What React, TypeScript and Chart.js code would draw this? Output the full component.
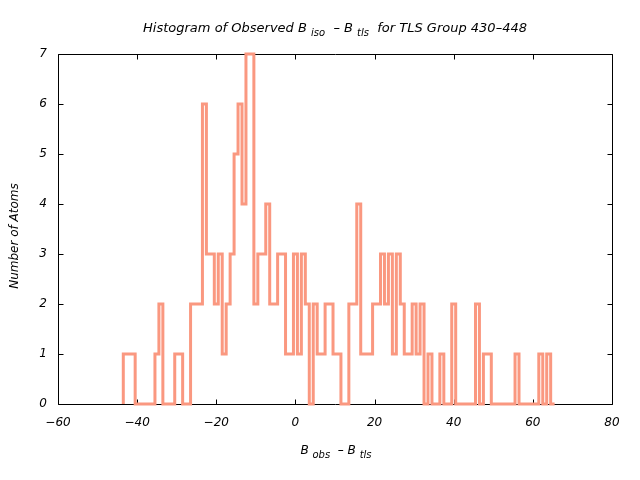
import React, { useEffect, useRef } from "react";
import { Chart, registerables } from "chart.js";

Chart.register(...registerables);

// Histogram bins: centre of first bin and bin width (data units)
const BIN_START = -43;
const BIN_WIDTH = 1;
// Counts for bins centred at -43, -42, ..., 65
const COUNTS = [
  1, 1, 1, // -43..-41
  0, 0, 0, 0, 0, // -40..-36
  1, 2, // -35, -34
  0, 0, 0, // -33..-31
  1, 1, // -30, -29
  0, 0, // -28, -27
  2, 2, 2, // -26..-24
  6, // -23
  3, 3, // -22, -21
  2, 3, 1, 2, 3, 5, 6, 4, // -20..-13
  7, 7, // -12, -11
  2, 3, 3, 4, 2, 2, // -10..-5
  3, 3, 1, 1, // -4..-1
  3, 1, 3, 2, 0, 2, // 0..5
  1, 1, 2, 2, 1, 1, // 6..11
  0, 0, 2, 2, 4, // 12..16
  1, 1, 1, 2, 2, // 17..21
  3, 2, 3, 1, 3, 2, // 22..27
  1, 1, 2, 1, 2, 0, // 28..33
  1, 0, 0, 1, 0, 0, // 34..39
  2, 0, 0, 0, 0, 0, // 40..45
  2, 0, 1, 1, // 46..49
  0, 0, 0, 0, 0, 0, // 50..55
  1, 0, 0, 0, 0, 0, // 56..61
  1, 0, 1, 0, // 62..65
];

const X_MIN = -60;
const X_MAX = 80;
const X_STEP = 20;
const Y_MIN = 0;
const Y_MAX = 7;
const Y_STEP = 1;

const TITLE_PARTS = [
  { text: "Histogram of Observed B ", sub: false },
  { text: "iso", sub: true },
  { text: "  \u2013 B ", sub: false },
  { text: "tls", sub: true },
  { text: "  for TLS Group 430\u2013448", sub: false },
];
const XLABEL_PARTS = [
  { text: "B ", sub: false },
  { text: "obs", sub: true },
  { text: "  \u2013 B ", sub: false },
  { text: "tls", sub: true },
];
const YLABEL = "Number of Atoms";

const FONT_FAMILY = "'DejaVu Sans', sans-serif";
const LINE_COLOR = "rgb(250,152,128)";

type Part = { text: string; sub: boolean };

function drawRich(
  ctx: CanvasRenderingContext2D,
  parts: Part[],
  cx: number,
  baseline: number,
  size: number,
  subSize: number
) {
  const mainFont = `italic ${size}px ${FONT_FAMILY}`;
  const subFont = `italic ${subSize}px ${FONT_FAMILY}`;
  let total = 0;
  const widths = parts.map((p) => {
    ctx.font = p.sub ? subFont : mainFont;
    const w = ctx.measureText(p.text).width;
    total += w;
    return w;
  });
  let x = cx - total / 2;
  ctx.textAlign = "left";
  ctx.textBaseline = "alphabetic";
  parts.forEach((p, i) => {
    ctx.font = p.sub ? subFont : mainFont;
    ctx.fillText(p.text, x, p.sub ? baseline + 4 : baseline);
    x += widths[i];
  });
}

const framePlugin = {
  id: "gnuFrame",
  beforeDatasetsDraw(chart: any) {
    const { ctx, chartArea: a, scales } = chart;
    const xs = scales.x;
    const ys = scales.y;
    const L = Math.round(a.left) + 0.5;
    const R = Math.round(a.right) + 0.5;
    const T = Math.round(a.top) + 0.5;
    const B = Math.round(a.bottom) + 0.5;
    ctx.save();
    ctx.strokeStyle = "#000";
    ctx.lineWidth = 1;
    ctx.beginPath();
    ctx.rect(L, T, R - L, B - T);
    const tl = 5;
    for (let v = X_MIN; v <= X_MAX; v += X_STEP) {
      const px = Math.round(xs.getPixelForValue(v)) + 0.5;
      ctx.moveTo(px, B);
      ctx.lineTo(px, B - tl);
      ctx.moveTo(px, T);
      ctx.lineTo(px, T + tl);
    }
    for (let v = Y_MIN; v <= Y_MAX; v += Y_STEP) {
      const py = Math.round(ys.getPixelForValue(v)) + 0.5;
      ctx.moveTo(L, py);
      ctx.lineTo(L + tl, py);
      ctx.moveTo(R, py);
      ctx.lineTo(R - tl, py);
    }
    ctx.stroke();
    ctx.restore();
  },
  afterDraw(chart: any) {
    const { ctx, chartArea: a } = chart;
    ctx.save();
    ctx.fillStyle = "#000";
    const cx = (a.left + a.right) / 2;
    drawRich(ctx, TITLE_PARTS, cx, 32, 13, 10);
    drawRich(ctx, XLABEL_PARTS, cx + 1, 454, 12, 10);
    ctx.translate(18, 236);
    ctx.rotate(-Math.PI / 2);
    ctx.font = `italic 12px ${FONT_FAMILY}`;
    ctx.textAlign = "center";
    ctx.textBaseline = "alphabetic";
    ctx.fillText(YLABEL, 0, 0);
    ctx.restore();
  },
};

function fmtTick(v: number) {
  return v < 0 ? "\u2212" + Math.abs(v) : String(v);
}

export default function App() {
  const ref = useRef<HTMLCanvasElement | null>(null);
  useEffect(() => {
    if (!ref.current) return;
    const pts: { x: number; y: number }[] = [];
    pts.push({ x: BIN_START - BIN_WIDTH / 2, y: 0 });
    COUNTS.forEach((c, i) => {
      pts.push({ x: BIN_START + i * BIN_WIDTH - BIN_WIDTH / 2, y: c });
    });
    pts.push({
      x: BIN_START + (COUNTS.length - 1) * BIN_WIDTH + BIN_WIDTH / 2,
      y: COUNTS[COUNTS.length - 1],
    });
    const tickFont = { family: FONT_FAMILY, size: 12, style: "italic" as const };
    const chart = new Chart(ref.current, {
      type: "line",
      data: {
        datasets: [
          {
            data: pts,
            stepped: "before",
            borderColor: LINE_COLOR,
            borderWidth: 3,
            pointRadius: 0,
            fill: false,
            borderJoinStyle: "miter",
            borderCapStyle: "butt",
            clip: false as any,
          },
        ],
      },
      options: {
        animation: false,
        responsive: false,
        maintainAspectRatio: false,
        layout: { padding: { top: 54, right: 28, left: 0, bottom: 0 } },
        plugins: {
          legend: { display: false },
          title: { display: false },
          tooltip: { enabled: false },
        },
        scales: {
          x: {
            type: "linear",
            min: X_MIN,
            max: X_MAX,
            grid: { display: false, drawTicks: false },
            border: { display: false },
            ticks: {
              stepSize: X_STEP,
              autoSkip: false,
              maxRotation: 0,
              padding: 12,
              color: "#000",
              font: tickFont,
              callback: (v: any) => fmtTick(Number(v)),
            },
            afterFit: (s: any) => {
              s.height = 76;
            },
          },
          y: {
            type: "linear",
            min: Y_MIN,
            max: Y_MAX,
            grid: { display: false, drawTicks: false },
            border: { display: false },
            ticks: {
              stepSize: Y_STEP,
              autoSkip: false,
              padding: 11,
              color: "#000",
              font: tickFont,
              callback: (v: any) => fmtTick(Number(v)),
            },
            afterFit: (s: any) => {
              s.width = 58;
            },
          },
        },
      },
      plugins: [framePlugin],
    });
    return () => chart.destroy();
  }, []);
  return (
    <div style={{ position: "fixed", left: 0, top: 0, width: 640, height: 480, background: "#fff" }}>
      <canvas ref={ref} width={640} height={480} style={{ width: 640, height: 480 }} />
    </div>
  );
}
